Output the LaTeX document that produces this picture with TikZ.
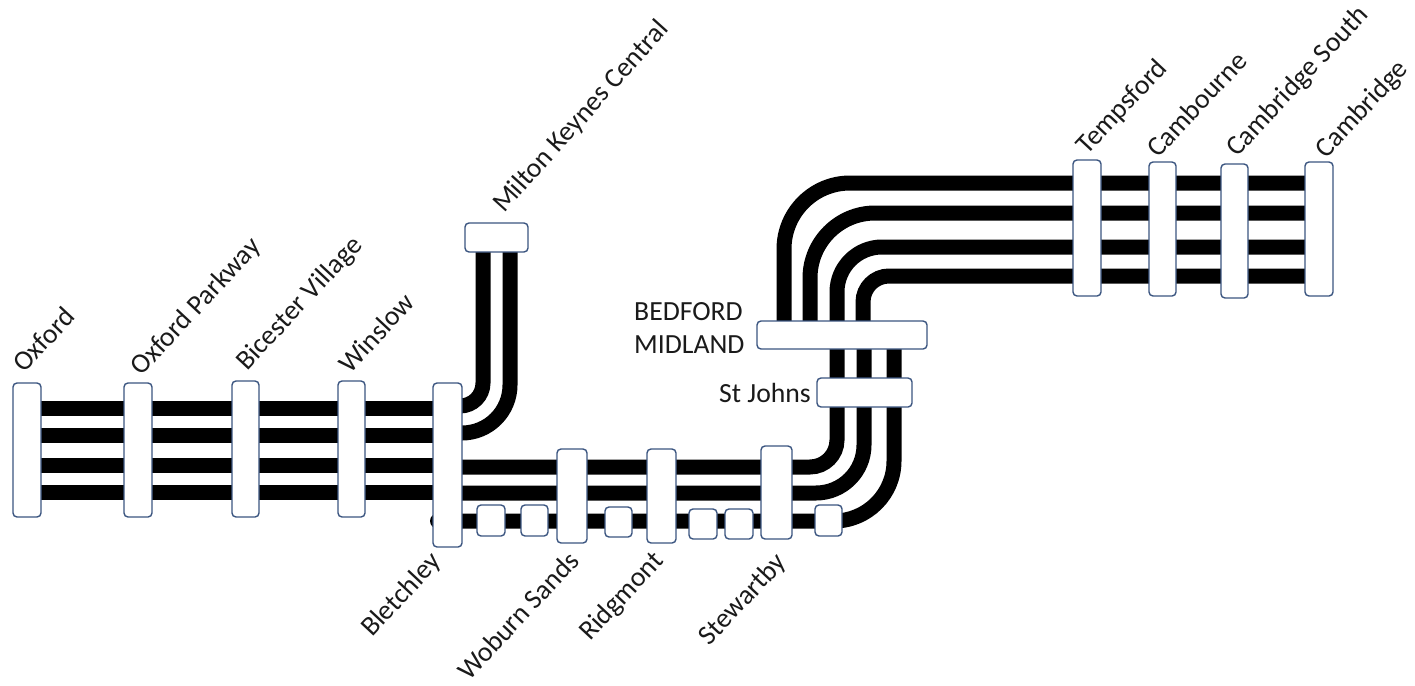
\documentclass[tikz,border=0pt]{standalone}
\usepackage{fontspec}
\setmainfont{Carlito}
\usetikzlibrary{backgrounds}
\definecolor{boxedge}{HTML}{3B5580}
\definecolor{labelink}{HTML}{1A1A1A}
\tikzset{
  x=1pt,y=-1pt,
  railline/.style={line width=15pt,black,line cap=butt},
  station/.style={draw=boxedge,fill=white,line width=1.4pt,rounded corners=4pt,inner sep=0pt,outer sep=0pt},
  slabel/.style={font=\fontsize{27.7}{32}\selectfont,text=labelink,rotate=47,anchor=base west,inner sep=0pt},
  hlabel/.style={font=\fontsize{27.7}{32}\selectfont,text=labelink,inner sep=0pt}
}
\newcommand{\stationbox}[5]{% name, x1, y1, x2, y2
  \node[station,minimum width={(#4-#2)*1pt},minimum height={(#5-#3)*1pt}] (#1) at ({(#2+#4)/2},{(#3+#5)/2}) {};}
\begin{document}
\begin{tikzpicture}
\useasboundingbox (0,0) rectangle (1415,685);
% station boxes
\stationbox{oxford}{13}{383}{41}{517}
\stationbox{parkway}{124}{383}{152}{517}
\stationbox{bicester}{232}{381}{259}{517}
\stationbox{winslow}{338}{381}{365}{517}
\stationbox{bletchley}{433}{383}{462}{547}
\stationbox{milton}{465}{223}{528}{252}
\stationbox{fenny}{477}{505}{505}{536}
\stationbox{bow}{521}{505}{548}{536}
\stationbox{woburn}{557}{449}{587}{543}
\stationbox{aspley}{605}{507}{632}{537}
\stationbox{ridgmont}{647}{449}{676}{543}
\stationbox{lidlington}{689}{509}{717}{539}
\stationbox{millbrook}{725}{509}{753}{539}
\stationbox{stewartby}{761}{446}{792}{539}
\stationbox{kempston}{815}{505}{842}{536}
\stationbox{stjohns}{817}{378}{912}{407}
\stationbox{bedford}{757}{321}{927}{349}
\stationbox{tempsford}{1073}{160}{1101}{296}
\stationbox{cambourne}{1149}{162}{1176}{296}
\stationbox{camsouth}{1221}{164}{1248}{298}
\stationbox{cambridge}{1305}{162}{1333}{296}
\begin{scope}[on background layer]
% Oxford to Bletchley
\foreach \yy in {408,435.5,465,492}
  \draw[railline] (oxford.center |- 0,\yy) -- (bletchley.center |- 0,\yy);
% Bletchley to Milton Keynes
\draw[railline,rounded corners=23pt] (bletchley.center |- 0,406) -- (483,406) -- (milton.center -| 483,0);
\draw[railline,rounded corners=48pt] (bletchley.center |- 0,433) -- (510,433) -- (milton.center -| 510,0);
% Bletchley to Bedford
\draw[railline,rounded corners=27pt] (bletchley.center |- 0,467) -- (837,467) -- (bedford.center -| 837,0);
\draw[railline,rounded corners=48pt] (bletchley.center |- 0,493) -- (864,493) -- (bedford.center -| 864,0);
\draw[railline,rounded corners=60pt,line cap=round] (bletchley.center |- 0,521) ++(-10,0) -- (894,521) -- (bedford.center -| 894,0);
% Bedford to Cambridge
\draw[railline,rounded corners=66pt] (bedford.center -| 784,0) -- (784,183) -- (cambridge.center |- 0,183);
\draw[railline,rounded corners=65pt] (bedford.center -| 810,0) -- (810,213) -- (cambridge.center |- 0,213);
\draw[railline,rounded corners=45pt] (bedford.center -| 837,0) -- (837,247) -- (cambridge.center |- 0,247);
\draw[railline,rounded corners=26pt] (bedford.center -| 863,0) -- (863,276) -- (cambridge.center |- 0,276);
\end{scope}
% labels
\node[slabel] (loxford) at (24,374) {Oxford};
\node[slabel] (lparkway) at (141.5,377) {Oxford Parkway};
\node[slabel] (lbicester) at (247,371.5) {Bicester Village};
\node[slabel] (lwinslow) at (350,375) {Winslow};
\node[slabel,rotate=1] (lmilton) at (504,214) {Milton Keynes Central};
\node[slabel] (lbletchley) at (372,638) {Bletchley};
\node[slabel] (lwoburn) at (469,682) {Woburn Sands};
\node[slabel] (lridgmont) at (590,642) {Ridgmont};
\node[slabel] (lstewartby) at (709.5,647) {Stewartby};
\node[slabel] (ltempsford) at (1087.5,156) {Tempsford};
\node[slabel] (lcambourne) at (1158.5,159) {Cambourne};
\node[slabel] (lcamsouth) at (1237,158) {Cambridge South};
\node[slabel] (lcambridge) at (1326,159.5) {Cambridge};
\node[hlabel,anchor=base west] (lbed1) at (634,320) {BEDFORD};
\node[hlabel,anchor=base west] (lbed2) at (634,353) {MIDLAND};
\node[hlabel,anchor=base east] (lstj) at (811,402) {St Johns};
\end{tikzpicture}
\end{document}
